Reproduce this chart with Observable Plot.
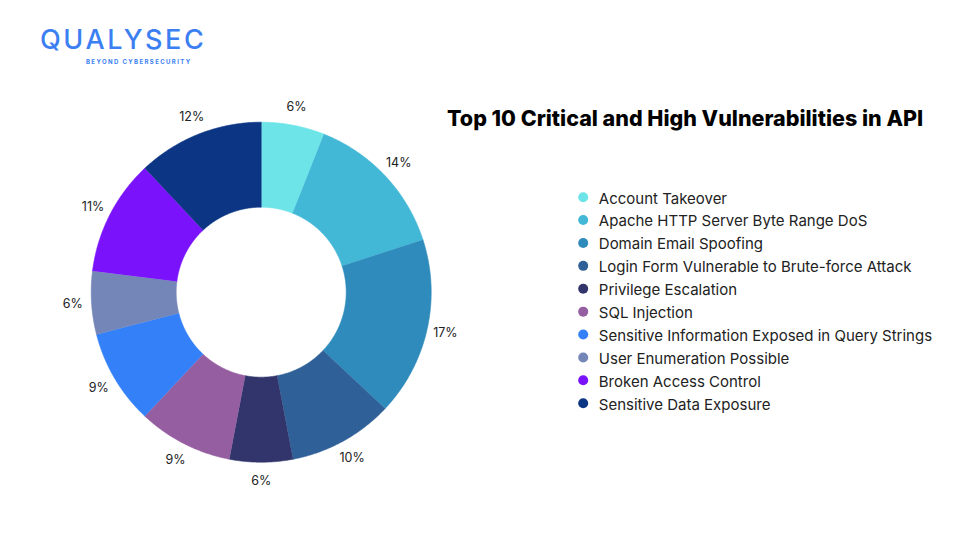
<!DOCTYPE html>
<html>
<head>
<meta charset="utf-8">
<script src="https://cdn.jsdelivr.net/npm/d3@7"></script>
<script src="https://cdn.jsdelivr.net/npm/@observablehq/plot@0.6"></script>
<style>
  html, body { margin: 0; padding: 0; background: #fff; }
  #page { position: relative; width: 960px; height: 540px; overflow: hidden; background: #fff; font-family: Inter, "Open Sans", sans-serif; }
  #donut { position: absolute; left: 0; top: 0; }
  #legend { position: absolute; left: 560px; top: 180px; }
  #logo { position: absolute; left: 40px; top: 25px; color: #3b7ff2; }
  #logo .name { font-family: Inter, sans-serif; font-size: 27px; font-weight: 500; letter-spacing: 2.6px; line-height: 30px; }
  #logo .tag { font-family: Inter, sans-serif; font-size: 6px; font-weight: 700; letter-spacing: 1.4px; margin-left: 46px; margin-top: 3px; }
  #title { position: absolute; left: 447px; top: 105px; font-family: Inter, sans-serif; font-weight: 800; font-size: 21.5px; color: #000; white-space: nowrap; }
</style>
</head>
<body>
<div id="page">
  <div id="donut"></div>
  <div id="legend"></div>
  <div id="logo"><div class="name">QUALYSEC</div><div class="tag">BEYOND CYBERSECURITY</div></div>
  <div id="title">Top 10 Critical and High Vulnerabilities in API</div>
</div>
<script>
const categories = [
  "Account Takeover",
  "Apache HTTP Server Byte Range DoS",
  "Domain Email Spoofing",
  "Login Form Vulnerable to Brute-force Attack",
  "Privilege Escalation",
  "SQL Injection",
  "Sensitive Information Exposed in Query Strings",
  "User Enumeration Possible",
  "Broken Access Control",
  "Sensitive Data Exposure"
];
const values = [6, 14, 17, 10, 6, 9, 9, 6, 11, 12];
const labels = ["6%", "14%", "17%", "10%", "6%", "9%", "9%", "6%", "11%", "12%"];
const colors = ["#6ce4e8", "#42b7d6", "#2e8bbb", "#2f6098", "#31356b", "#955ea0", "#3380f8", "#7485b8", "#7a12fb", "#0c3584"];

// geometry (in radius units)
const R_OUT = 1, R_IN = 0.5, R_LABEL = 1.11;
const total = d3.sum(values);
let acc = 0;
const slices = categories.map((name, i) => {
  const a0 = acc / total * 2 * Math.PI;
  acc += values[i];
  const a1 = acc / total * 2 * Math.PI;
  return {name, value: values[i], label: labels[i], a0, a1, mid: (a0 + a1) / 2};
});
const points = [];
for (const s of slices) {
  const n = Math.max(4, Math.ceil((s.a1 - s.a0) / (Math.PI / 360)));
  for (let k = 0; k <= n; k++) {
    const a = s.a0 + (s.a1 - s.a0) * k / n;
    points.push({name: s.name, x: R_OUT * Math.sin(a), y: R_OUT * Math.cos(a)});
  }
  for (let k = n; k >= 0; k--) {
    const a = s.a0 + (s.a1 - s.a0) * k / n;
    points.push({name: s.name, x: R_IN * Math.sin(a), y: R_IN * Math.cos(a)});
  }
}

const cx = 260.7, cy = 291.7, rpx = 170;
const W = 960, H = 540;
const donut = Plot.plot({
  width: W, height: H, margin: 0,
  x: {domain: [-cx / rpx, (W - cx) / rpx], axis: null},
  y: {domain: [-(H - cy) / rpx, cy / rpx], axis: null},
  color: {domain: categories, range: colors},
  style: {background: "transparent"},
  marks: [
    Plot.line(points, {x: "x", y: "y", z: "name", fill: "name", stroke: "name", strokeWidth: 0.6, curve: "linear"}),
    Plot.text(slices, {
      x: d => R_LABEL * Math.sin(d.mid),
      y: d => R_LABEL * Math.cos(d.mid),
      text: "label", fill: "#222", fontSize: 12.5,
      fontFamily: "Inter, sans-serif"
    })
  ]
});
document.getElementById("donut").appendChild(donut);

const legend = Plot.plot({
  width: 390, height: 240, margin: 0,
  y: {type: "point", domain: categories, range: [16.7, 222.7], padding: 0, round: false, axis: null},
  color: {domain: categories, range: colors},
  style: {background: "transparent"},
  marks: [
    Plot.dot(categories, {y: d => d, fill: d => d, r: 5, frameAnchor: "left", dx: 22.7}),
    Plot.text(categories, {y: d => d, text: d => d, frameAnchor: "left", dx: 38.3, dy: 1.5, textAnchor: "start",
      fill: "#222", fontSize: 15, fontFamily: "Inter, sans-serif"})
  ]
});
document.getElementById("legend").appendChild(legend);
</script>
</body>
</html>
